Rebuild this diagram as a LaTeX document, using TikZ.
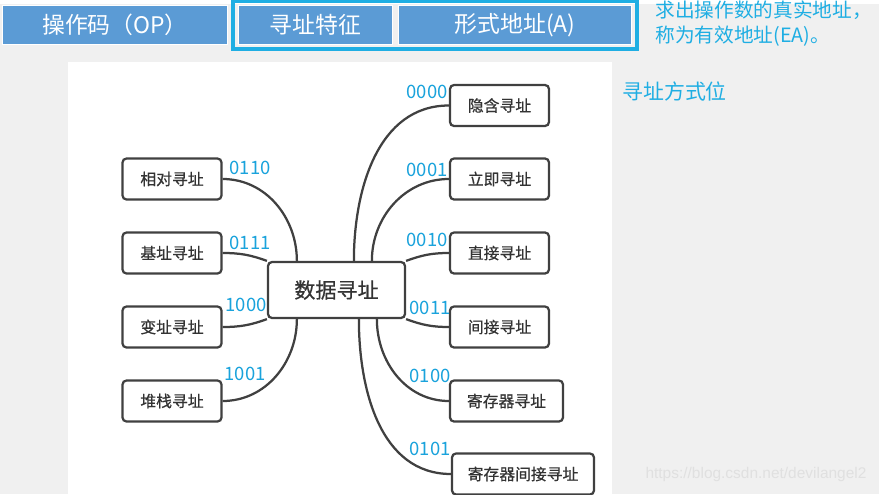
\documentclass[tikz,border=0pt]{standalone}
\usepackage{fontspec}
\setmainfont{Noto Sans CJK SC}
\newfontfamily\boxfont[FakeBold=0.6]{Noto Sans CJK SC}
\newfontfamily\urlfont{Liberation Sans}
\usepackage{tikz}
\usetikzlibrary{positioning}
\usepackage{xcolor}
\definecolor{barblue}{HTML}{5B9BD5}
\definecolor{framecyan}{HTML}{1FAEE3}
\definecolor{codeblue}{HTML}{1AA3DC}
\definecolor{edgegray}{HTML}{404040}
\definecolor{bggray}{HTML}{F0F0F0}

\begin{document}
\begin{tikzpicture}[x=0.02cm, y=-0.02cm,
    mode/.style={draw=edgegray, line width=0.045cm, rounded corners=0.08cm, fill=white, minimum width=1.98cm, minimum height=0.82cm, inner sep=0pt, text=black!80, font=\boxfont\fontsize{9}{11}\selectfont},
    code/.style={text=codeblue, inner sep=0pt, font=\fontsize{10.5}{12}\selectfont},
    bar/.style={fill=barblue, draw=white, line width=0.02cm, minimum height=0.8cm, inner sep=0pt, text=white, font=\fontsize{13}{15}\selectfont},
    link/.style={edgegray, line width=0.045cm}]
    % Background and white panel
    \useasboundingbox (0,0) rectangle (879,494);
    \fill[bggray] (0,0) rectangle (879,494);
    \fill[white] (0,0) rectangle (879,4);
    \fill[white] (68,62) rectangle (612,494);

    % Instruction format bar
    \node[bar, minimum width=4.52cm] (op) at (115,25) {操作码（OP）};
    \node[bar, minimum width=3.1cm] (tz) at (315.5,25) {寻址特征};
    \node[bar, minimum width=4.68cm] (dz) at (515,25) {形式地址(A)};
    \draw[framecyan, line width=0.07cm] (233,1) rectangle (637,49);

    % Notes
    \node[anchor=west, align=left, text=framecyan, inner sep=0pt, font=\fontsize{11.2}{14.2}\selectfont] (ea) at (655,24) {求出操作数的真实地址，\\称为有效地址(EA)。};
    \node[anchor=west, text=framecyan, inner sep=0pt, font=\fontsize{11.9}{14}\selectfont] (fsw) at (622,92) {寻址方式位};

    % Center node
    \node[mode, minimum width=2.74cm, minimum height=1.12cm, font=\boxfont\fontsize{12}{14}\selectfont] (sj) at (336.5,290) {数据寻址};

    % Left modes
    \node[mode] (xd) at (172,179) {相对寻址};
    \node[mode] (jz) at (172,253) {基址寻址};
    \node[mode] (bz) at (172,327) {变址寻址};
    \node[mode] (dz2) at (172,401) {堆栈寻址};

    % Right modes
    \node[mode] (yh) at (499.5,105.5) {隐含寻址};
    \node[mode] (lj) at (499.5,179) {立即寻址};
    \node[mode] (zj) at (499.5,253) {直接寻址};
    \node[mode] (jj) at (499.5,327) {间接寻址};
    \node[mode, minimum width=2.26cm] (jcq) at (506.5,401) {寄存器寻址};
    \node[mode, minimum width=2.84cm] (jcjj) at (523,474) {寄存器间接寻址};

    % Curved links
    \begin{scope}[link]
        \draw (xd.east) to[out=0, in=90] ([xshift=0.6cm]sj.north west);
        \draw (jz.east) to[out=0, in=160] (sj.north west);
        \draw (bz.east) to[out=0, in=200] (sj.south west);
        \draw (dz2.east) to[out=0, in=-90] ([xshift=0.6cm]sj.south west);
        \draw (yh.west) to[out=180, in=90] ([xshift=1.74cm]sj.north west);
        \draw (lj.west) to[out=180, in=90] ([xshift=2.1cm]sj.north west);
        \draw (zj.west) to[out=180, in=20] (sj.north east);
        \draw (jj.west) to[out=180, in=-20] (sj.south east);
        \draw (jcq.west) to[out=180, in=-90] ([xshift=2.2cm]sj.south west);
        \draw (jcjj.west) to[out=180, in=-90] ([xshift=1.84cm]sj.south west);
    \end{scope}

    % Codes
    \node[code] (c0110) at (250,168) {0110};
    \node[code] (c0111) at (250,243) {0111};
    \node[code] (c1000) at (246,305) {1000};
    \node[code] (c1001) at (245,374) {1001};
    \node[code] (c0000) at (427,92) {0000};
    \node[code] (c0001) at (427,170) {0001};
    \node[code] (c0010) at (427,240) {0010};
    \node[code] (c0011) at (430,308) {0011};
    \node[code] (c0100) at (430,376) {0100};
    \node[code] (c0101) at (430,449) {0101};

    % Watermark
    \node[text=black!12, inner sep=0pt, font=\urlfont\fontsize{8.8}{10}\selectfont] (wm) at (756,474) {https://blog.csdn.net/devilangel2};
\end{tikzpicture}
\end{document}
